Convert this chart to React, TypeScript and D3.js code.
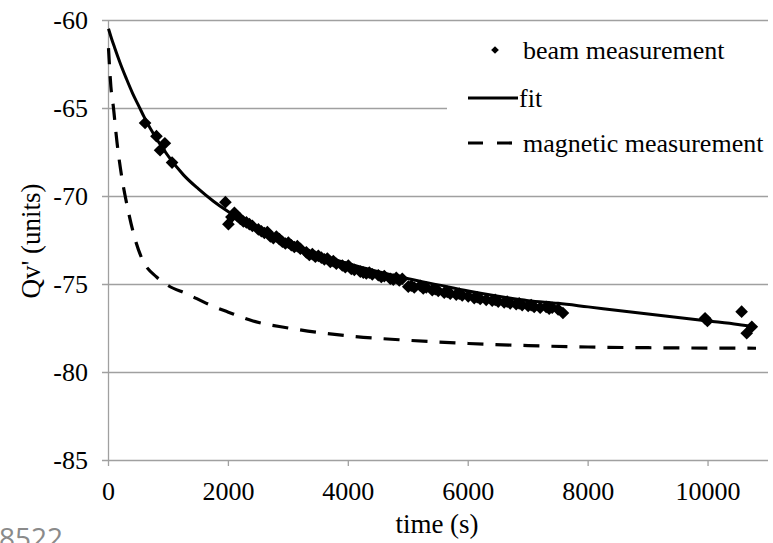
import React from "react";
import * as d3 from "d3";

const xTicks = [0, 2000, 4000, 6000, 8000, 10000];
const yTicks = [-60, -65, -70, -75, -80, -85];

// beam measurement (time s, Qv')
const beamT = [
  610, 800, 860, 940, 1060, 1950, 2000, 2050, 2100, 2150, 2200, 2250, 2300, 2350, 2400, 2500,
  2550, 2600, 2650, 2700, 2750, 2800, 2850, 2900, 2950, 3000, 3050, 3100, 3150, 3200, 3300,
  3350, 3400, 3450, 3500, 3550, 3600, 3650, 3700, 3750, 3800, 3900, 3950, 4000, 4050, 4100,
  4200, 4250, 4300, 4350, 4400, 4500, 4550, 4600, 4700, 4750, 4800, 4850, 4900, 5000, 5050,
  5100, 5200, 5250, 5300, 5400, 5450, 5500, 5600, 5650, 5700, 5800, 5850, 5900, 6000, 6100,
  6150, 6200, 6300, 6400, 6450, 6500, 6600, 6650, 6700, 6800, 6850, 6900, 7000, 7050, 7100,
  7200, 7300, 7350, 7400, 7500, 7580, 9950, 9990, 10560, 10645, 10730,
];
const beamQ = [
  -65.85, -66.6, -67.4, -67.0, -68.1, -70.35, -71.6, -71.2, -70.95, -71.15, -71.3, -71.45, -71.5,
  -71.6, -71.7, -71.9, -72.0, -72.1, -72.05, -72.3, -72.4, -72.3, -72.45, -72.6, -72.7, -72.65,
  -72.8, -72.9, -72.85, -73.0, -73.2, -73.35, -73.3, -73.45, -73.4, -73.5, -73.6, -73.55, -73.75,
  -73.7, -73.85, -73.95, -74.05, -73.95, -74.15, -74.2, -74.3, -74.35, -74.4, -74.35, -74.45,
  -74.5, -74.6, -74.55, -74.7, -74.75, -74.65, -74.8, -74.7, -75.15, -75.1, -75.2, -75.1, -75.25,
  -75.2, -75.35, -75.3, -75.4, -75.5, -75.45, -75.55, -75.6, -75.55, -75.65, -75.7, -75.8, -75.75,
  -75.85, -75.9, -75.95, -75.9, -76.0, -76.05, -76.0, -76.1, -76.15, -76.1, -76.2, -76.25, -76.2,
  -76.3, -76.35, -76.3, -76.4, -76.35, -76.45, -76.65, -76.95, -77.1, -76.57, -77.8, -77.43,
];

// fit curve
const fitT = [0, 50, 100, 200, 300, 400, 500, 600, 800, 1000, 1250, 1500, 1750, 2000, 2500, 3000,
  3500, 4000, 4500, 5000, 5500, 6000, 6500, 7000, 7500, 8000, 8500, 9000, 9500, 10000, 10500, 10800];
const fitQ = [-60.5, -61.05, -61.55, -62.5, -63.35, -64.15, -64.85, -65.55, -66.75, -67.75, -68.8,
  -69.6, -70.3, -70.9, -71.9, -72.7, -73.3, -73.85, -74.3, -74.7, -75.05, -75.4, -75.7, -75.95,
  -76.1, -76.3, -76.5, -76.7, -76.9, -77.1, -77.3, -77.45];

// magnetic measurement
const magT = [0, 20, 40, 80, 140, 220, 320, 415, 550, 800, 1000, 1300, 1700, 2000, 2410, 3000,
  4000, 5000, 6000, 7000, 8000, 9000, 10000, 10800];
const magQ = [-61.6, -62.8, -63.8, -64.9, -66.9, -68.9, -70.7, -72.1, -73.5, -74.6, -75.1, -75.55,
  -76.2, -76.6, -77.1, -77.5, -77.95, -78.2, -78.38, -78.5, -78.58, -78.62, -78.64, -78.65];

const legendLabels = ["beam measurement", "fit", "magnetic measurement"];

const W = 773;
const H = 543;
const serif = "'Liberation Serif', 'Times New Roman', serif";
const grid = "#a0a0a0";
const tstyle: React.CSSProperties = { fontFamily: serif };

export default function App() {
  const x = d3.scaleLinear().domain([0, 11000]).range([108.5, 768]);
  const y = d3.scaleLinear().domain([-85, -60]).range([460, 20]);

  const fitLine = d3
    .line<number>()
    .x((_, i) => x(fitT[i]))
    .y((d) => y(d))
    .curve(d3.curveMonotoneX)(fitQ) as string;
  const magLine = d3
    .line<number>()
    .x((_, i) => x(magT[i]))
    .y((d) => y(d))
    .curve(d3.curveMonotoneX)(magQ) as string;

  const diamond = d3.symbol(d3.symbolSquare, 80)() as string;
  const legDiamond = d3.symbol(d3.symbolSquare, 30)() as string;

  return (
    <svg
      width={W}
      height={H}
      style={{ position: "absolute", left: 0, top: 0, background: "#fff" }}
    >
      <rect x={0} y={0} width={W} height={H} fill="#fff" />
      {/* gridlines */}
      {yTicks.map((t) => (
        <line key={t} x1={102} x2={768} y1={Math.round(y(t)) + 0.5} y2={Math.round(y(t)) + 0.5}
          stroke={grid} strokeWidth={1.3} />
      ))}
      {/* y axis */}
      <line x1={108.5} x2={108.5} y1={y(-60)} y2={y(-85)} stroke={grid} strokeWidth={1.3} />
      {/* x ticks */}
      {xTicks.map((t) => (
        <line key={t} x1={x(t)} x2={x(t)} y1={y(-85)} y2={y(-85) + 6} stroke={grid} strokeWidth={1.3} />
      ))}
      {/* y tick labels */}
      {yTicks.map((t) => (
        <text key={t} x={88} y={y(t)} dy="0.34em" textAnchor="end" fontSize={26} fill="#000" style={tstyle}>
          {t}
        </text>
      ))}
      {/* x tick labels */}
      {xTicks.map((t) => (
        <text key={t} x={x(t)} y={500} textAnchor="middle" fontSize={26} fill="#000" style={tstyle}>
          {t}
        </text>
      ))}
      <text x={437} y={533} textAnchor="middle" fontSize={27} style={tstyle}>time (s)</text>
      <text transform={`translate(40,241) rotate(-90)`} textAnchor="middle" fontSize={27} style={tstyle}>
        Qv' (units)
      </text>

      {/* magnetic */}
      <path d={magLine} fill="none" stroke="#000" strokeWidth={3.2} strokeDasharray="16,12" />
      {/* fit */}
      <path d={fitLine} fill="none" stroke="#000" strokeWidth={3} />
      {/* beam */}
      {beamQ.map((q, i) => (
        <path key={i} d={diamond} transform={`translate(${x(beamT[i])},${y(q)}) rotate(45)`} fill="#000" />
      ))}

      {/* legend */}
      <rect x={447} y={28} width={326} height={160} fill="#fff" />
      <path d={legDiamond} transform="translate(495,50) rotate(45)" fill="#000" />
      <text x={523} y={59} fontSize={26} style={tstyle}>{legendLabels[0]}</text>
      <line x1={468} x2={518} y1={98} y2={98} stroke="#000" strokeWidth={3} />
      <text x={519} y={107} fontSize={26} style={tstyle}>{legendLabels[1]}</text>
      <line x1={468} x2={518} y1={143} y2={143} stroke="#000" strokeWidth={3.2} strokeDasharray="15,14" />
      <text x={523} y={152} fontSize={26} style={tstyle}>{legendLabels[2]}</text>

      {/* stray label at bottom-left */}
      <text x={63} y={548} textAnchor="end" fontSize={28} fill="#8a8a8a"
        style={{ fontFamily: "'Open Sans', 'Noto Sans', sans-serif" }}>
        8522
      </text>
    </svg>
  );
}
